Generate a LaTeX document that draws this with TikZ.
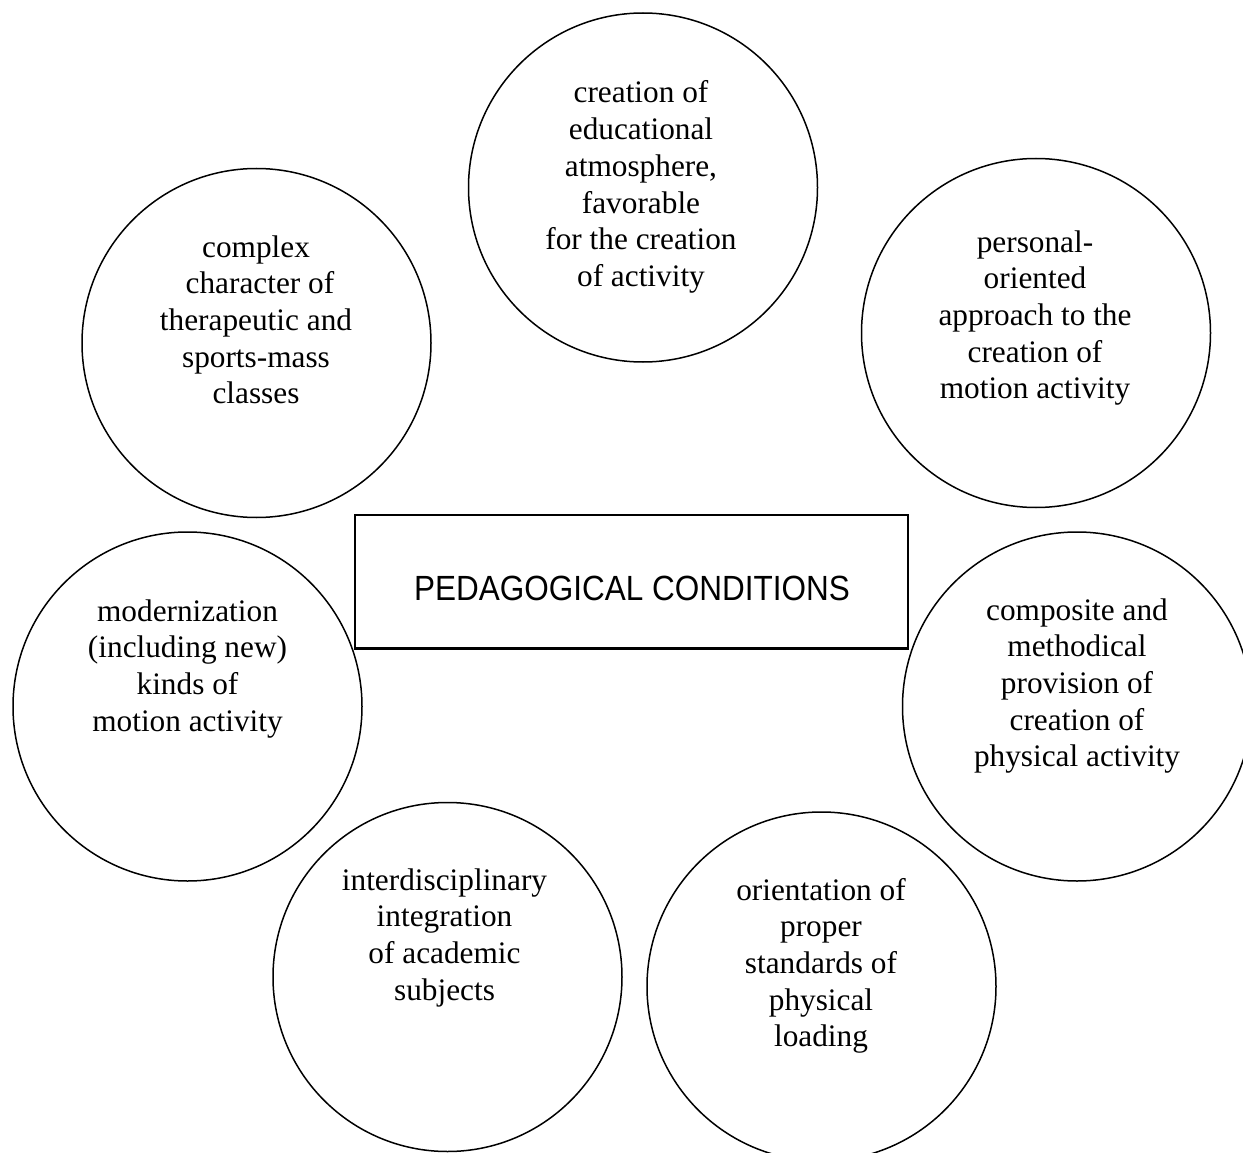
\documentclass[tikz,border=0pt]{standalone}
\usepackage{fontspec}
\setmainfont{Liberation Serif}
\newfontfamily\titlefont[FakeStretch=0.9]{Liberation Sans}
\newcommand\circtext{\fontsize{31.3}{36.7}\selectfont}
\newcommand\lines[1]{\begin{tabular}[t]{@{}c@{}}#1\end{tabular}}
\begin{document}
\begin{tikzpicture}[x=1pt,y=-1pt,
  condcircle/.style={circle, draw, line width=1.5pt, minimum size=349pt, inner sep=0pt},
  condtext/.style={anchor=base, inner sep=0pt, font=\circtext},
  titlebox/.style={rectangle, draw, line width=2.2pt, minimum width=553pt, minimum height=133.5pt, inner sep=0pt},
  titletext/.style={anchor=base, inner sep=0pt, font=\titlefont\fontsize{35}{40}\selectfont}]
  % page area
  \fill[white] (0,0) rectangle (1243,1153);
  \clip (0,0) rectangle (1243,1153);

  % central box
  \node[titlebox] (box) at (631.5,581.75) {};
  \node[titletext] (title) at (632,600) {PEDAGOGICAL CONDITIONS};

  % surrounding conditions
  \node[condcircle] (c1) at (643,187.5) {};
  \node[condtext] (t1) at (641,103) {\lines{creation of\\ educational\\ atmosphere,\\ favorable\\ for the creation\\ of activity}};

  \node[condcircle] (c2) at (256.5,343) {};
  \node[condtext] (t2) at (256,257) {\lines{complex\\ \ character of\\ therapeutic and\\ sports-mass\\ classes}};

  \node[condcircle] (c3) at (1036,333) {};
  \node[condtext] (t3) at (1035,252) {\lines{personal-\\ oriented\\ approach to the\\ creation of\\ motion activity}};

  \node[condcircle] (c4) at (187.5,706.5) {};
  \node[condtext] (t4) at (187.5,621) {\lines{modernization\\ (including new)\\ kinds of\\ motion activity}};

  \node[condcircle] (c5) at (1077,706.5) {};
  \node[condtext] (t5) at (1077,620) {\lines{composite and\\ methodical\\ provision of\\ creation of\\ physical activity}};

  \node[condcircle] (c6) at (447.5,977) {};
  \node[condtext] (t6) at (444.5,890) {\lines{interdisciplinary\\ integration\\ of academic\\ subjects}};

  \node[condcircle] (c7) at (821.5,986.5) {};
  \node[condtext] (t7) at (821,900) {\lines{orientation of\\ proper\\ standards of\\ physical\\ loading}};
\end{tikzpicture}
\end{document}
